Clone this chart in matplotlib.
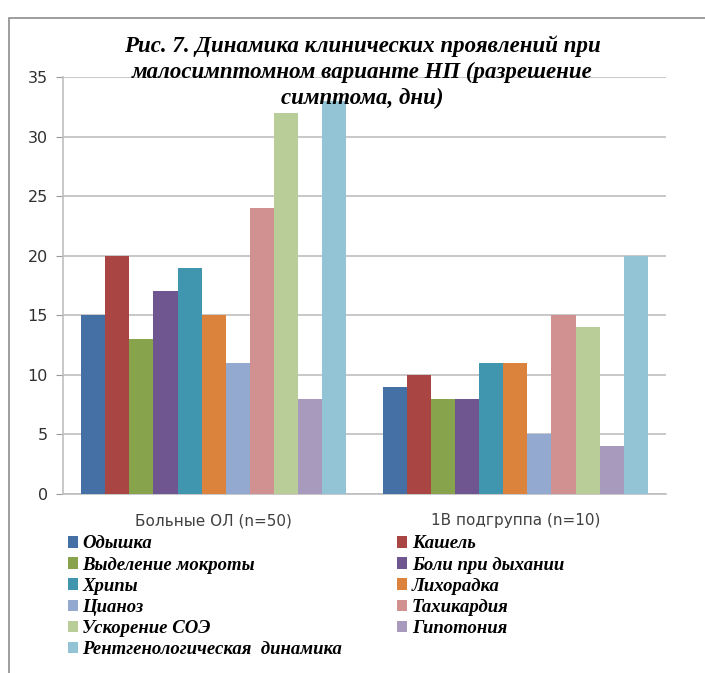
import matplotlib
matplotlib.use("Agg")
import matplotlib.pyplot as plt
from matplotlib.patches import Rectangle
import numpy as np

groups = ["Больные ОЛ (n=50)", "1В подгруппа (n=10)"]
symptoms = ["Одышка", "Кашель", "Выделение мокроты", "Боли при дыхании",
            "Хрипы", "Лихорадка", "Цианоз", "Тахикардия", "Ускорение СОЭ",
            "Гипотония", "Рентгенологическая  динамика"]
all_patients = [15, 20, 13, 17, 19, 15, 11, 24, 32, 8, 33]
subgroup_1b = [9, 10, 8, 8, 11, 11, 5, 15, 14, 4, 20]
colors = ["#4470A6", "#A94543", "#87A34C", "#705690", "#4096AE", "#DB833C",
          "#94A9D0", "#D19191", "#B8CD97", "#A89ABD", "#92C4D6"]
yticks = [0, 5, 10, 15, 20, 25, 30, 35]

title = ("Рис. 7. Динамика клинических проявлений при\n"
         "малосимптомном варианте НП (разрешение\n"
         "симптома, дни)")

fig = plt.figure(figsize=(7.05, 6.73), dpi=100)
fig.patch.set_facecolor("white")

# outer chart frame
fig.add_artist(Rectangle((9 / 705, -0.05), 1.2, 1 - 18 / 673 + 0.05,
                         transform=fig.transFigure, fill=False,
                         edgecolor="#8C8C8C", linewidth=1.2))

ax = fig.add_axes([63 / 705, 1 - 494 / 673, (666 - 63) / 705, (494 - 77) / 673])

n = len(symptoms)
width = 1 / (n + 1.5)
x = np.arange(len(groups))
for i in range(n):
    vals = [all_patients[i], subgroup_1b[i]]
    ax.bar(x - width * n / 2 + width * (i + 0.5), vals, width,
           color=colors[i], label=symptoms[i], zorder=3, linewidth=0)

ax.set_xlim(-0.5, 1.5)
ax.set_ylim(0, 35)
ax.set_yticks(yticks)
ax.set_xticks(x)
ax.set_xticklabels(groups, fontsize=11, family="DejaVu Sans", color="#404040")
ax.tick_params(axis="x", length=0, pad=14)
ax.tick_params(axis="y", length=5, color="#999999", labelsize=11.5,
               labelcolor="#303030", pad=6)
ax.grid(axis="y", color="#BFBFBF", linewidth=1.2, zorder=0)
for s in ["top", "right"]:
    ax.spines[s].set_visible(False)
ax.spines["left"].set_color("#BFBFBF")
ax.spines["bottom"].set_color("#BFBFBF")
ax.spines["left"].set_linewidth(1.2)
ax.spines["bottom"].set_linewidth(1.2)

fig.text(362 / 705, 1 - 35 / 673, title, ha="center", va="top",
         family="Liberation Serif", fontweight="bold", fontstyle="italic",
         fontsize=16.5, linespacing=1.3, zorder=10)

# legend filled row by row in two columns
handles, labels = ax.get_legend_handles_labels()
order = list(range(0, n, 2)) + list(range(1, n, 2))
leg = fig.legend([handles[k] for k in order], [labels[k] for k in order],
                 ncol=2, loc="upper left",
                 bbox_to_anchor=(60 / 705, 1 - 528 / 673),
                 frameon=False, handlelength=0.55, handleheight=0.55,
                 handletextpad=0.25, columnspacing=2.9, labelspacing=0.22,
                 borderaxespad=0,
                 prop={"family": "Liberation Serif", "weight": "bold",
                       "style": "italic", "size": 13.5})

fig.savefig("out.png", dpi=100)
